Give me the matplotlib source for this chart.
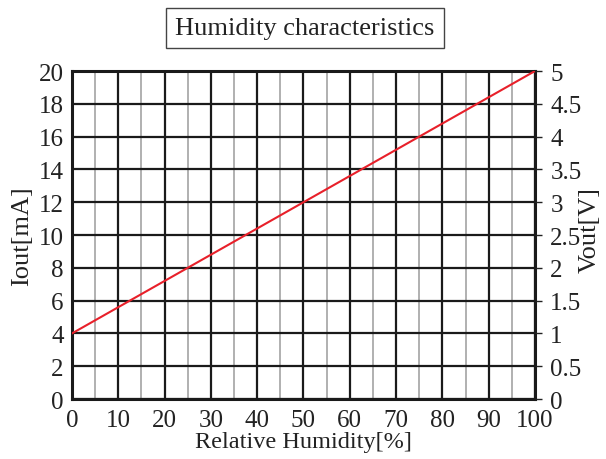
import matplotlib
matplotlib.use("Agg")
import matplotlib.pyplot as plt

# humidity -> output current / voltage
rh = [0, 100]
iout = [4, 20]
x_ticks = list(range(0, 101, 10))
y_ticks = list(range(0, 21, 2))
v_ticks = [0, 0.5, 1, 1.5, 2, 2.5, 3, 3.5, 4, 4.5, 5]
v_labels = ["0", "0.5", "1", "1.5", "2", "2.5", "3", "3.5", "4", "4.5", "5"]

plt.rcParams['font.family'] = ['Liberation Serif', 'DejaVu Serif']
plt.rcParams['text.color'] = '#222222'
FS = 19
TS = 18

fig = plt.figure(figsize=(6.06, 4.60), dpi=100)
ax = fig.add_axes([0.1188, 0.1304, 0.764, 0.713])

ax.set_xlim(0, 100)
ax.set_ylim(0, 20)
ax.set_xticks(x_ticks)
ax.set_yticks(y_ticks)
ax.set_xticks(range(5, 100, 10), minor=True)
ax.grid(True, which='major', color='#1a1a1a', lw=1.6)
ax.grid(True, which='minor', axis='x', color='#aaaaaa', lw=1.3)
ax.set_axisbelow(True)
ax.tick_params(which='both', length=0, labelsize=TS, colors='#222222')
ax.tick_params(axis='x', pad=7)
ax.tick_params(axis='y', pad=6)
for s in ax.spines.values():
    s.set_linewidth(2.2)
    s.set_color('#1a1a1a')

ax.plot(rh, iout, color='#e8202a', lw=1.5, zorder=3)

ax2 = ax.twinx()
ax2.set_ylim(0, 5)
ax2.set_yticks(v_ticks)
ax2.set_yticklabels(v_labels)
ax2.tick_params(length=5, width=1, labelsize=TS, pad=6, colors='#222222')
for s in ax2.spines.values():
    s.set_visible(False)

fig.text(303 / 606, 1 - 443 / 460, 'Relative Humidity[%]', ha='center', va='center', fontsize=17.5)
fig.text(22 / 606, 1 - 236 / 460, 'Iout[mA]', ha='center', va='center', rotation=90, fontsize=FS)
fig.text(590 / 606, 1 - 230 / 460, 'Vout[V]', ha='center', va='center', rotation=90, fontsize=FS)

fig.text(305 / 606, 1 - 29 / 460, 'Humidity characteristics', ha='center', va='center', fontsize=FS,
         bbox=dict(boxstyle='square,pad=0.35', fc='white', ec='#444444', lw=1))

fig.savefig('out.png', dpi=100)
